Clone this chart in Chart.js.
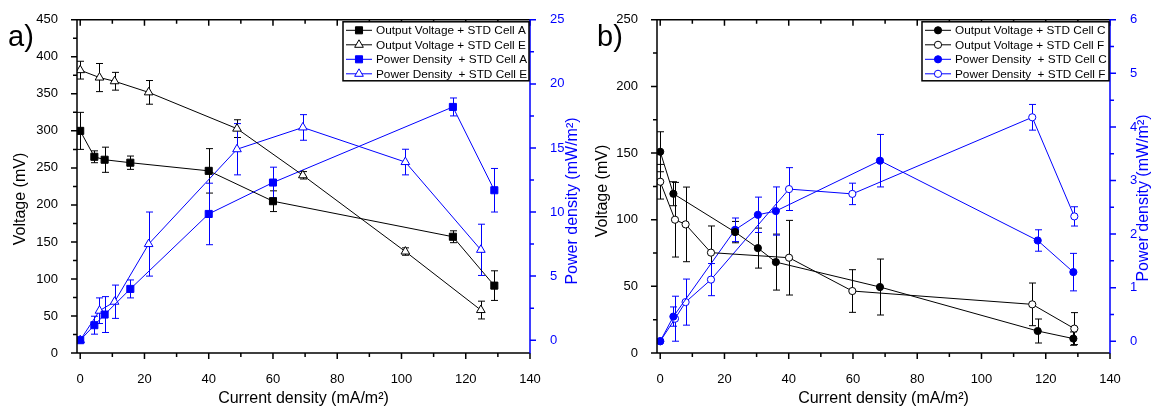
<!DOCTYPE html>
<html lang="en">
<head>
  <meta charset="UTF-8" />
  <title>Output voltage and power density</title>
  <script src="https://cdn.jsdelivr.net/npm/chart.js"></script>
  <style>
    body { margin: 0; background: #fff; overflow: hidden; }
    .panel { position: absolute; top: 0; height: 408px; width: 590px; }
    #panelA { left: 0; }
    #panelB { left: 576px; }
  </style>
</head>
<body>
<div class="panel" id="panelA"><canvas id="chartA" width="590" height="408"></canvas></div>
<div class="panel" id="panelB"><canvas id="chartB" width="590" height="408"></canvas></div>

<script>
  // shared x axis
  const xTicks = [0, 20, 40, 60, 80, 100, 120, 140];

  // panel a) cells A and E
  const voltTicksA = [0, 50, 100, 150, 200, 250, 300, 350, 400, 450];
  const powerTicksA = [0, 5, 10, 15, 20, 25];
  const currentA = [0, 4.4, 7.6, 15.6, 40, 60, 116, 128.9];
  const voltA = [300, 265, 261, 257, 246, 205, 157, 91];
  const voltErrA = [25, 8, 17, 9, 30, 14, 8, 20];
  const powerA = [0, 1.17, 2.0, 4.0, 9.85, 12.3, 18.2, 11.7];
  const powerErrA = [0, 0.7, 1.4, 0.7, 2.4, 1.2, 0.7, 1.7];
  const currentE = [0, 6.0, 10.7, 21.3, 48.8, 69.3, 101.2, 124.7];
  const voltE = [382, 372, 367, 352, 303, 240, 137, 58];
  const voltErrE = [12, 19, 12, 16, 12, 5, 5, 12];
  const powerE = [0, 2.3, 3.0, 7.5, 14.9, 16.6, 13.9, 7.05];
  const powerErrE = [0, 1.0, 1.3, 2.5, 2.0, 1.0, 1.0, 2.0];

  // panel b) cells C and F
  const voltTicksB = [0, 50, 100, 150, 200, 250];
  const powerTicksB = [0, 1, 2, 3, 4, 5, 6];
  const currentC = [0, 4.1, 23.3, 30.4, 36, 68.4, 117.5, 128.6];
  const voltC = [151, 119.5, 90.7, 78.7, 68.2, 49.5, 16.5, 10.8];
  const voltErrC = [15, 9, 8, 15, 21, 21, 9, 5];
  const powerC = [0, 0.46, 2.08, 2.36, 2.43, 3.37, 1.88, 1.29];
  const powerErrC = [0, 0.18, 0.22, 0.33, 0.45, 0.49, 0.2, 0.35];
  const currentF = [0, 4.6, 7.9, 15.8, 40.1, 59.8, 115.8, 128.9];
  const voltF = [128.5, 100, 96.5, 75.3, 71.5, 46.5, 36.5, 18.3];
  const voltErrF = [13, 28, 28, 20, 28, 16, 16, 12];
  const powerF = [0, 0.42, 0.73, 1.15, 2.84, 2.75, 4.18, 2.33];
  const powerErrF = [0, 0.42, 0.43, 0.3, 0.4, 0.2, 0.24, 0.18];

  const FONT = "'Liberation Sans', Arial, sans-serif";
  const BLUE = '#0000ff';

  function series(label, xs, ys, errs, axis, color, style, open) {
    return {
      label: label,
      yAxisID: axis,
      data: xs.map((x, i) => ({ x: x, y: ys[i] })),
      errors: errs,
      borderColor: color,
      backgroundColor: open ? '#fff' : color,
      pointBorderColor: color,
      pointBackgroundColor: open ? '#fff' : color,
      pointStyle: style,
      pointRadius: style === 'circle' ? 3.6 : 5,
      pointBorderWidth: 1,
      borderWidth: 1,
      tension: 0,
      fill: false
    };
  }

  // vertical error bars with caps, drawn under the markers
  const errorBars = {
    id: 'errorBars',
    beforeDatasetsDraw(chart) {
      const ctx = chart.ctx;
      ctx.save();
      ctx.lineWidth = 1;
      chart.data.datasets.forEach((ds, i) => {
        const meta = chart.getDatasetMeta(i);
        const scale = chart.scales[ds.yAxisID];
        ctx.strokeStyle = ds.borderColor;
        meta.data.forEach((pt, j) => {
          const e = ds.errors[j];
          if (!e) return;
          const v = ds.data[j].y;
          const top = scale.getPixelForValue(v + e);
          const bot = scale.getPixelForValue(v - e);
          const x = Math.round(pt.x) + 0.5;
          ctx.beginPath();
          ctx.moveTo(x, top); ctx.lineTo(x, bot);
          ctx.moveTo(x - 3.5, top); ctx.lineTo(x + 3.5, top);
          ctx.moveTo(x - 3.5, bot); ctx.lineTo(x + 3.5, bot);
          ctx.stroke();
        });
      });
      ctx.restore();
    }
  };

  // boxed frame with major/minor tick marks (Origin style)
  function halfway(ticks) {
    const out = [];
    for (let i = 0; i < ticks.length - 1; i++) out.push((ticks[i] + ticks[i + 1]) / 2);
    return out;
  }

  const frame = {
    id: 'frame',
    afterDatasetsDraw(chart) {
      const { ctx, chartArea: a, scales } = chart;
      const mark = (scale, values, len, fn) => values.forEach(v => fn(scale.getPixelForValue(v), len));
      ctx.save();
      ctx.lineWidth = 1.5;
      ctx.strokeStyle = '#000';
      ctx.beginPath();
      ctx.moveTo(a.right, a.top); ctx.lineTo(a.left, a.top);
      ctx.lineTo(a.left, a.bottom); ctx.lineTo(a.right, a.bottom);
      const xs = scales.x.ticks.map(t => t.value);
      [[xs, 6], [halfway(xs), 4]].forEach(([vals, len]) => mark(scales.x, vals, len, (p) => {
        ctx.moveTo(p, a.bottom); ctx.lineTo(p, a.bottom + len);
        ctx.moveTo(p, a.top); ctx.lineTo(p, a.top + len);
      }));
      const ys = scales.y.ticks.map(t => t.value);
      [[ys, 6], [halfway(ys), 4]].forEach(([vals, len]) => mark(scales.y, vals, len, (p) => {
        ctx.moveTo(a.left - len, p); ctx.lineTo(a.left, p);
      }));
      ctx.stroke();

      ctx.strokeStyle = BLUE;
      ctx.beginPath();
      ctx.moveTo(a.right, a.top - 0.5); ctx.lineTo(a.right, a.bottom + 0.5);
      const rs = scales.y1.ticks.map(t => t.value);
      [[rs, 6], [halfway(rs), 4]].forEach(([vals, len]) => mark(scales.y1, vals, len, (p) => {
        ctx.moveTo(a.right, p); ctx.lineTo(a.right + len, p);
      }));
      ctx.stroke();
      ctx.restore();
    }
  };

  // panel letter, rotated y titles and the boxed legend
  const decor = {
    id: 'decor',
    afterDraw(chart, args, o) {
      const { ctx, chartArea: a } = chart;
      ctx.save();
      ctx.textBaseline = 'middle';
      ctx.fillStyle = '#000';
      ctx.font = '29px ' + FONT;
      ctx.fillText(o.letter, o.letterX, 38);

      ctx.font = '16px ' + FONT;
      ctx.textAlign = 'center';
      [[o.yTitle, o.yTitleX, o.yTitleY, '#000'], [o.y1Title, o.y1TitleX, o.y1TitleY, BLUE]].forEach(([t, x, y, c]) => {
        ctx.save();
        ctx.fillStyle = c;
        ctx.translate(x, y);
        ctx.rotate(-Math.PI / 2);
        ctx.fillText(t, 0, 0);
        ctx.restore();
      });

      // legend
      const w = o.legendWidth, h = 59;
      const left = a.right - w - 1, top = a.top + 2;
      ctx.fillStyle = '#fff';
      ctx.fillRect(left, top, w, h);
      ctx.lineWidth = 1.5;
      ctx.strokeStyle = '#000';
      ctx.strokeRect(left, top, w, h);
      ctx.textAlign = 'left';
      ctx.font = '11.8px ' + FONT;
      chart.data.datasets.forEach((ds, i) => {
        const y = top + 8.5 + i * 14.5;
        ctx.lineWidth = 1;
        ctx.strokeStyle = ds.borderColor;
        ctx.beginPath();
        ctx.moveTo(left + 3, y); ctx.lineTo(left + 29, y);
        ctx.stroke();
        ctx.fillStyle = ds.pointBackgroundColor;
        Chart.helpers.drawPoint(ctx, { pointStyle: ds.pointStyle, radius: ds.pointRadius, borderWidth: 1, rotation: 0 }, left + 16, y);
        ctx.fillStyle = '#000';
        ctx.fillText(ds.label, left + 33, y + 0.5);
      });
      ctx.restore();
    }
  };

  function tickList(list) {
    return scale => { scale.ticks = list.map(v => ({ value: v })); };
  }

  function buildPanel(id, p) {
    return new Chart(document.getElementById(id), {
      type: 'line',
      data: { datasets: p.datasets },
      options: {
        responsive: false,
        animation: false,
        devicePixelRatio: 1,
        layout: { padding: { top: 19, left: 0, right: 0, bottom: 0 } },
        plugins: {
          legend: { display: false },
          tooltip: { enabled: false },
          decor: p.decor
        },
        scales: {
          x: {
            type: 'linear', min: -1, max: 140,
            afterBuildTicks: tickList(xTicks),
            afterFit: s => { s.height = 55; },
            grid: { display: false }, border: { display: false },
            ticks: { padding: 11, color: '#000', font: { family: FONT, size: 13 } },
            title: {
              display: true, text: 'Current density (mA/m²)', color: '#000',
              font: { family: FONT, size: 16 }, padding: { top: 0, bottom: 0 }
            }
          },
          y: {
            position: 'left', min: 0, max: p.voltMax,
            afterBuildTicks: tickList(p.voltTicks),
            afterFit: s => { s.width = p.leftWidth; },
            grid: { display: false }, border: { display: false },
            ticks: { padding: 11, color: '#000', font: { family: FONT, size: 13 } }
          },
          y1: {
            position: 'right', min: p.powerMin, max: p.powerMax,
            afterBuildTicks: tickList(p.powerTicks),
            afterFit: s => { s.width = p.rightWidth; },
            grid: { display: false }, border: { display: false },
            ticks: { padding: 12, color: BLUE, font: { family: FONT, size: 13 } }
          }
        }
      },
      plugins: [errorBars, frame, decor]
    });
  }

  buildPanel('chartA', {
    voltMax: 450, voltTicks: voltTicksA,
    powerMin: -1, powerMax: 25, powerTicks: powerTicksA,
    leftWidth: 77, rightWidth: 60,
    decor: {
      letter: 'a)', letterX: 8,
      yTitle: 'Voltage (mV)', yTitleX: 21, yTitleY: 199,
      y1Title: 'Power density (mW/m²)', y1TitleX: 573, y1TitleY: 201,
      legendWidth: 186
    },
    datasets: [
      series('Output Voltage + STD Cell A', currentA, voltA, voltErrA, 'y', '#000', 'rect', false),
      series('Output Voltage + STD Cell E', currentE, voltE, voltErrE, 'y', '#000', 'triangle', true),
      series('Power Density  + STD Cell A', currentA, powerA, powerErrA, 'y1', BLUE, 'rect', false),
      series('Power Density  + STD Cell E', currentE, powerE, powerErrE, 'y1', BLUE, 'triangle', true)
    ]
  });

  buildPanel('chartB', {
    voltMax: 250, voltTicks: voltTicksB,
    powerMin: -0.22, powerMax: 6, powerTicks: powerTicksB,
    leftWidth: 81, rightWidth: 56,
    decor: {
      letter: 'b)', letterX: 21,
      yTitle: 'Voltage (mV)', yTitleX: 27, yTitleY: 191,
      y1Title: 'Power density (mW/m²)', y1TitleX: 568, y1TitleY: 198,
      legendWidth: 187
    },
    datasets: [
      series('Output Voltage + STD Cell C', currentC, voltC, voltErrC, 'y', '#000', 'circle', false),
      series('Output Voltage + STD Cell F', currentF, voltF, voltErrF, 'y', '#000', 'circle', true),
      series('Power Density  + STD Cell C', currentC, powerC, powerErrC, 'y1', BLUE, 'circle', false),
      series('Power Density  + STD Cell F', currentF, powerF, powerErrF, 'y1', BLUE, 'circle', true)
    ]
  });
</script>
</body>
</html>
